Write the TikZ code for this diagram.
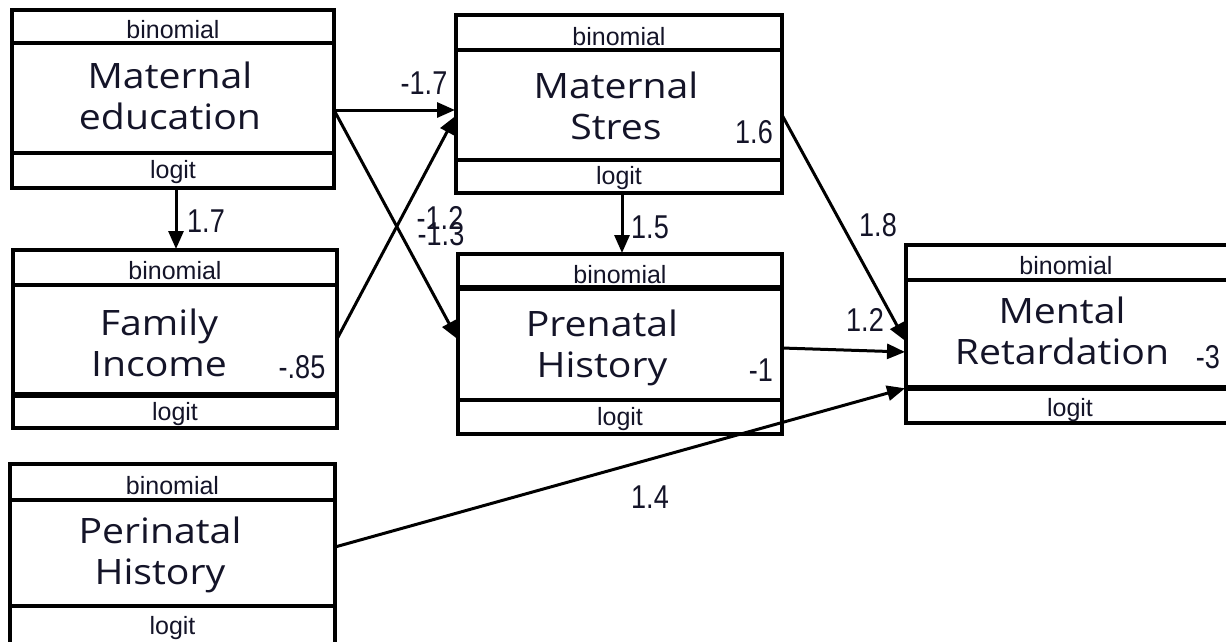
\documentclass[tikz,border=0pt]{standalone}
\usepackage{fontspec}
\setmainfont{Liberation Sans}
\newfontfamily\varfont[FakeStretch=1.12]{Open Sans}
\newfontfamily\numfont[FakeStretch=0.82]{Liberation Sans}
\usetikzlibrary{arrows.meta}
\definecolor{ink}{HTML}{141428}
\begin{document}
\begin{tikzpicture}[x=1pt,y=-1pt,
  varbox/.style={draw, line width=4pt, anchor=north west, inner sep=0pt, outer sep=0pt},
  divider/.style={line width=4pt},
  thickdiv/.style={line width=6pt},
  tag/.style={font=\fontsize{25}{25}\selectfont, text=ink, inner sep=0pt, anchor=base},
  vname/.style={font=\varfont\fontsize{35}{41}\selectfont, text=ink, align=center, inner sep=0pt},
  coef/.style={font=\numfont\fontsize{33}{33}\selectfont, text=ink, inner sep=0pt},
  link/.style={line width=3pt, -{Triangle[length=18pt,width=15pt]}, shorten >=1pt}
]
\useasboundingbox (0,0) rectangle (1226,641);
\clip (0,0) rectangle (1226,641);

% ---------- boxes ----------
\node[varbox, minimum width=322pt, minimum height=178pt] (me) at (12,10) {};
\draw[divider] ([yshift=-33pt]me.north west) -- ([yshift=-33pt]me.north east);
\draw[divider] ([yshift=-143pt]me.north west) -- ([yshift=-143pt]me.north east);
\node[tag] (me-t) at ([yshift=-28pt]me.north) {binomial};
\node[tag] (me-l) at ([yshift=-168pt]me.north) {logit};
\node[vname] (me-n) at (170,96) {Maternal\\education};

\node[varbox, minimum width=326pt, minimum height=178pt] (ms) at (456,15) {};
\draw[divider] ([yshift=-35pt]ms.north west) -- ([yshift=-35pt]ms.north east);
\draw[divider] ([yshift=-145pt]ms.north west) -- ([yshift=-145pt]ms.north east);
\node[tag] (ms-t) at ([yshift=-30pt]ms.north) {binomial};
\node[tag] (ms-l) at ([yshift=-169pt]ms.north) {logit};
\node[vname] (ms-n) at (616,106) {Maternal\\Stres};

\node[varbox, minimum width=324pt, minimum height=178pt] (fi) at (13,250) {};
\draw[divider] ([yshift=-35pt]fi.north west) -- ([yshift=-35pt]fi.north east);
\draw[thickdiv] ([yshift=-145pt]fi.north west) -- ([yshift=-145pt]fi.north east);
\node[tag] (fi-t) at ([yshift=-29pt]fi.north) {binomial};
\node[tag] (fi-l) at ([yshift=-170pt]fi.north) {logit};
\node[vname] (fi-n) at (159,343) {Family\\Income};

\node[varbox, minimum width=324pt, minimum height=180pt] (ph) at (458,254) {};
\draw[thickdiv] ([yshift=-34pt]ph.north west) -- ([yshift=-34pt]ph.north east);
\draw[divider] ([yshift=-146pt]ph.north west) -- ([yshift=-146pt]ph.north east);
\node[tag] (ph-t) at ([yshift=-29pt]ph.north) {binomial};
\node[tag] (ph-l) at ([yshift=-171pt]ph.north) {logit};
\node[vname] (ph-n) at (602,348) {Prenatal\\History};

\node[varbox, minimum width=360pt, minimum height=178pt] (mr) at (906,245) {};
\draw[divider] ([yshift=-35pt]mr.north west) -- ([yshift=-35pt]mr.north east);
\draw[thickdiv] ([yshift=-143pt]mr.north west) -- ([yshift=-143pt]mr.north east);
\node[tag] (mr-t) at (1066,274) {binomial};
\node[tag] (mr-l) at (1070,416) {logit};
\node[vname] (mr-n) at (1062,331) {Mental\\Retardation};

\node[varbox, minimum width=325pt, minimum height=200pt] (pn) at (10,464) {};
\draw[divider] ([yshift=-36pt]pn.north west) -- ([yshift=-36pt]pn.north east);
\draw[divider] ([yshift=-142pt]pn.north west) -- ([yshift=-142pt]pn.north east);
\node[tag] (pn-t) at ([yshift=-30pt]pn.north) {binomial};
\node[tag] (pn-l) at ([yshift=-170pt]pn.north) {logit};
\node[vname] (pn-n) at (160,555) {Perinatal\\History};

% ---------- connector end points ----------
\coordinate (me-r) at ([yshift=-11pt]me.east);
\coordinate (me-b) at ([xshift=3pt]me.south);
\coordinate (ms-in1) at ([yshift=-6pt]ms.west);
\coordinate (ms-in2) at ([yshift=-11pt]ms.west);
\coordinate (ms-r) at ([yshift=-11pt]ms.east);
\coordinate (ms-b) at ([xshift=3pt]ms.south);
\coordinate (ph-in) at ([yshift=4pt]ph.west);
\coordinate (ph-r) at ([yshift=-4pt]ph.east);
\coordinate (mr-in1) at ([yshift=-8pt]mr.west);
\coordinate (mr-in2) at ([yshift=-18pt]mr.west);
\coordinate (mr-in3) at ([yshift=-54pt]mr.west);
\coordinate (pn-r) at ([yshift=17pt]pn.east);

% ---------- connectors ----------
\draw[link] (me-r) -- (ms-in1);
\draw[link] (me-r) -- (ph-in);
\draw[link] (fi.east) -- (ms-in2);
\draw[link] (me-b) -- (me-b |- fi.north);
\draw[link] (ms-b) -- (ms-b |- ph.north);
\draw[link] (ms-r) -- (mr-in1);
\draw[link] (ph-r) -- (mr-in2);
\draw[link] (pn-r) -- (mr-in3);

% ---------- coefficients ----------
\node[coef] (c1) at (424,83) {-1.7};
\node[coef] (c2) at (440,218) {-1.2};
\node[coef] (c3) at (441,234) {-1.3};
\node[coef] (c4) at (206,221) {1.7};
\node[coef] (c5) at (650,227) {1.5};
\node[coef] (c6) at (878,225) {1.8};
\node[coef] (c7) at (865,320) {1.2};
\node[coef] (c8) at (754,132) {1.6};
\node[coef] (c9) at (302,367) {-.85};
\node[coef] (c10) at (761,370) {-1};
\node[coef] (c11) at (1208,357) {-3};
\node[coef] (c12) at (650,497) {1.4};
\end{tikzpicture}
\end{document}
